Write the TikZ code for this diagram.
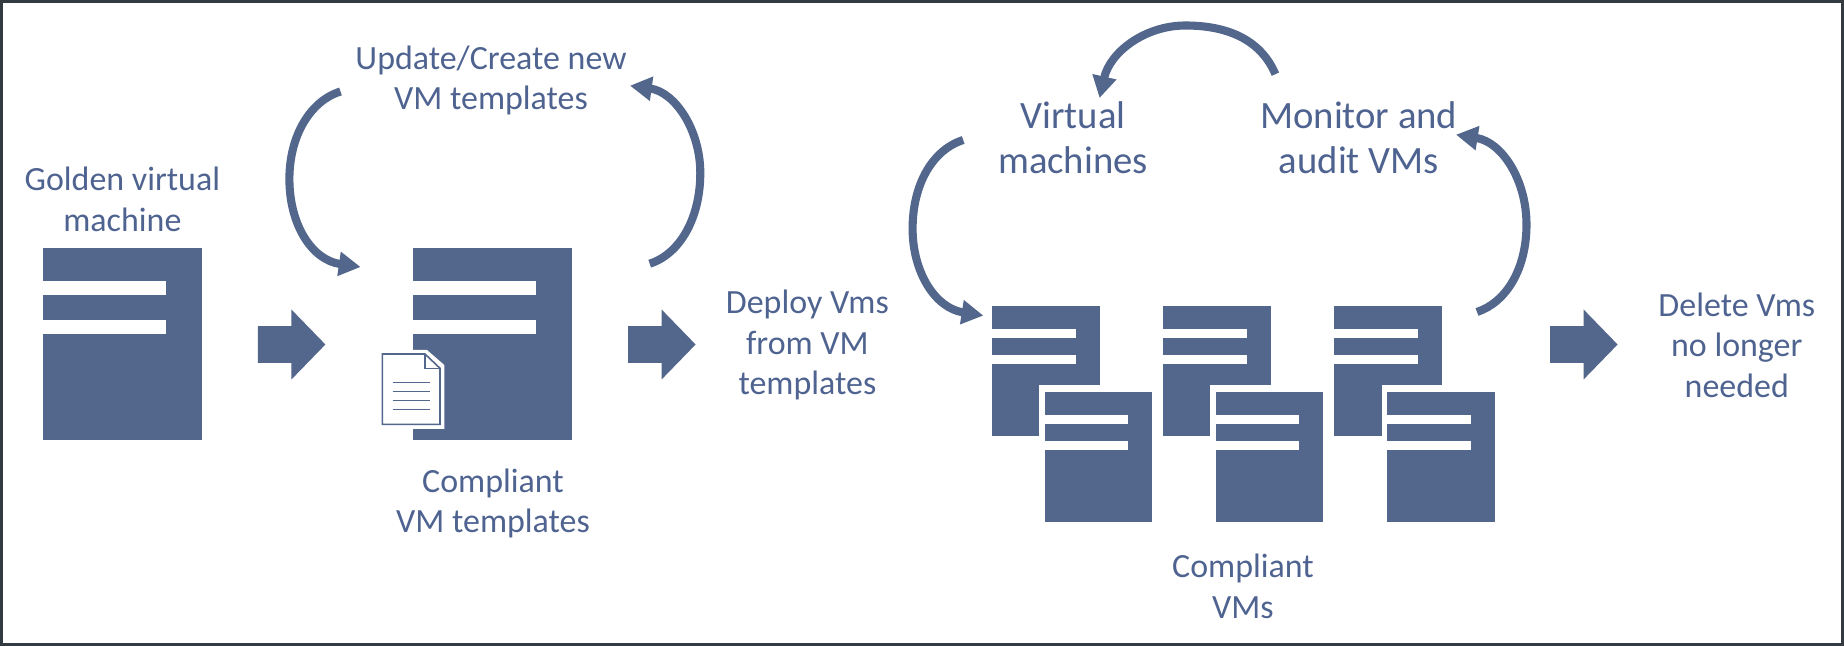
\documentclass[tikz,border=0pt]{standalone}
\usepackage{fontspec}
\setmainfont{Carlito}
\usetikzlibrary{arrows.meta}
\definecolor{vmblue}{HTML}{53668C}
\definecolor{vmtext}{HTML}{4F6390}
\definecolor{framegray}{HTML}{333A42}
\tikzset{
  vmserver/.pic={
    \fill[white] (-8,-10) rectangle (159,192.5);
    \fill[vmblue] (0,0) rectangle (159,192.5);
    \fill[white] (0,33.4) rectangle (123.6,47);
    \fill[white] (0,72) rectangle (123.6,86);
  },
  blockarrow/.pic={
    \fill[vmblue] (0,-18.3) -- (33.6,-18.3) -- (33.6,-35) -- (67.6,0) -- (33.6,35) -- (33.6,18.3) -- (0,18.3) -- cycle;
  },
  looparrow/.style={draw=vmblue, line width=2.3pt, -{Triangle[length=6.2pt,width=6.6pt]}},
  smalllabel/.style={text=vmtext, align=center, font=\fontsize{9.65}{11.5}\selectfont},
  biglabel/.style={text=vmtext, align=center, font=\fontsize{11}{12.9}\selectfont}
}
\begin{document}
\begin{tikzpicture}[x=0.01cm,y=-0.01cm]
        \useasboundingbox (0,0) rectangle (1844,646);
        \draw[framegray, line width=0.85pt] (1.5,1.5) rectangle (1842.5,644.5);
        % templates
        \pic at (42.7,248) {vmserver};
        \pic at (412.6,248) {vmserver};
        % document icon on the template
        \fill[white] (378,350) -- (427,350) -- (444.3,365) -- (444.3,429) -- (378,429) -- cycle;
        \draw[vmblue, line width=0.45pt] (382.3,354) -- (425,354) -- (440,368.3) -- (440,424.3) -- (382.3,424.3) -- cycle;
        \draw[vmblue, line width=0.45pt] (425,354) -- (425,368.3) -- (440,368.3);
        \foreach \ly in {382.7,391.7,400.7,409.3}
          \draw[vmblue, line width=0.4pt] (392.7,\ly) -- (430,\ly);
        % compliant VMs
        \foreach \sx in {992,1163,1334.3} {
          \pic[scale=0.677] at (\sx,306) {vmserver};
          \pic[scale=0.677] at (\sx+52.7,392) {vmserver};
        }
        % block arrows
        \pic at (257.8,344.5) {blockarrow};
        \pic at (628,344.5) {blockarrow};
        \pic at (1550,344.5) {blockarrow};
        % labels
        \node[smalllabel] (golden) at (122.4,199.5) {Golden virtual\\machine};
        \node[smalllabel] (update) at (491,80.5) {Update/Create new\\VM templates};
        \node[smalllabel] (templates) at (493,503.5) {Compliant\\VM templates};
        \node[smalllabel] (deploy) at (807.4,345) {Deploy Vms\\from VM\\templates};
        \node[smalllabel] (compliant) at (1243,586.5) {Compliant\\VMs};
        \node[smalllabel] (delete) at (1736.8,345) {Delete Vms\\no longer\\needed};
        \node[biglabel] (virtual) at (1073,138) {Virtual\\machines};
        \node[biglabel] (monitor) at (1358.8,138) {Monitor and\\audit VMs};
        % loops
        \coordinate (updL) at (340.5,91.5);
        \coordinate (tplL) at (360.6,267);
        \coordinate (tplR) at (649.7,263.7);
        \coordinate (updR) at (630,85.7);
        \coordinate (virL) at (963.2,140);
        \coordinate (vmsL) at (983.4,315.6);
        \coordinate (monT) at (1275.4,74.2);
        \coordinate (virT) at (1099.6,98);
        \coordinate (vmsR) at (1477,312);
        \coordinate (monR) at (1456,134.7);
        \draw[looparrow] (updL) .. controls (310,101) and (289.4,136) .. (289.4,179)
          .. controls (289.4,225) and (312,260) .. (tplL);
        \draw[looparrow] (tplR) .. controls (680,254) and (700.3,218) .. (700.3,173)
          .. controls (700.3,130) and (675,92) .. (updR);
        \draw[looparrow] (virL) .. controls (932,150) and (912.6,185) .. (912.6,228.7)
          .. controls (912.6,272) and (935,308) .. (vmsL);
        \draw[looparrow] (monT) .. controls (1260,38) and (1225,25.5) .. (1185.4,25.5)
          .. controls (1145,25.5) and (1110,52) .. (virT);
        \draw[looparrow] (vmsR) .. controls (1507,302) and (1526.5,268) .. (1526.5,224.6)
          .. controls (1526.5,180) and (1502,142) .. (monR);
    \end{tikzpicture}
\end{document}
